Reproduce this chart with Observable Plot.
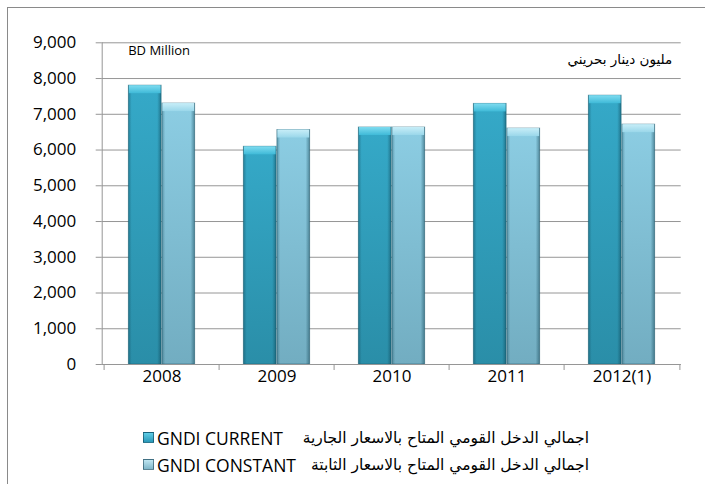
<!DOCTYPE html>
<html><head><meta charset="utf-8">
<script src="https://cdn.jsdelivr.net/npm/d3@7"></script>
<script src="https://cdn.jsdelivr.net/npm/@observablehq/plot@0.6"></script>
<style>
html,body{margin:0;padding:0;background:#fff;}
#frame{position:absolute;left:7px;top:7px;width:698px;height:477px;border-top:1px solid #8a8a8a;border-left:1px solid #8a8a8a;box-sizing:border-box;}
#chart{position:absolute;left:0;top:0;}
#legend{position:absolute;left:135px;top:416px;width:446px;font-family:"Open Sans",sans-serif;font-size:17.5px;color:#000;}
.row{display:flex;align-items:center;height:27px;}
.sw{width:11px;height:11px;margin-right:3px;box-sizing:border-box;border:1px solid rgba(0,40,60,0.5);}
.ar{margin-left:auto;direction:rtl;font-family:"DejaVu Sans",sans-serif;font-size:15.5px;}
</style></head>
<body>
<div id="frame"><div id="chart"></div>
<div id="legend"></div></div>
<script>
const years = ["2008", "2009", "2010", "2011", "2012(1)"];
const current = [7800, 6090, 6630, 7290, 7520];
const constant = [7300, 6560, 6630, 6600, 6710];
const yTicks = [0, 1000, 2000, 3000, 4000, 5000, 6000, 7000, 8000, 9000];
const seriesNames = ["GNDI CURRENT", "GNDI CONSTANT"];
const seriesArabic = ["اجمالي الدخل القومي المتاح بالاسعار الجارية", "اجمالي الدخل القومي المتاح بالاسعار الثابتة"];
const unitEn = "BD Million";
const unitAr = "مليون دينار بحريني";

const rows = years.map((y, i) => ({year: y, current: current[i], constant: constant[i]}));

const W = 697, ML = 93.7, MR = 24.3;
const bw = (W - ML - MR) / years.length;
const barW = 33.5;
const outer = (bw - 2 * barW) / 2;
const grid = "#969696";
const font = "Open Sans";

const chart = Plot.plot({
  width: W, height: 386,
  marginLeft: ML, marginRight: MR, marginTop: 34.3, marginBottom: 30,
  style: {fontFamily: font, background: "transparent"},
  x: {domain: years, padding: 0, axis: null},
  y: {domain: [0, 9000], axis: null},
  marks: [
    Plot.gridY(yTicks, {stroke: grid, strokeOpacity: 1}),
    Plot.frame({anchor: "left", stroke: grid}),
    Plot.axisY({ticks: yTicks, tickSize: 6, tickPadding: 20, tickFormat: d3.format(","), fontSize: 17, stroke: grid, fill: "#000", label: null}),
    // bars: current
    Plot.barY(rows, {x: "year", y: "current", fill: "url(#gCur)", stroke: "#1c6478", strokeOpacity: 0.55, insetLeft: outer, insetRight: outer + barW}),
    Plot.barY(rows, {x: "year", y: "current", fill: "url(#gEdge)", insetLeft: outer, insetRight: outer + barW}),
    Plot.barY(rows, {x: "year", y1: "current", y2: "current", fill: "url(#gCurTop)", insetBottom: -8, insetLeft: outer + 0.5, insetRight: outer + barW + 0.5}),
    // bars: constant
    Plot.barY(rows, {x: "year", y: "constant", fill: "url(#gCon)", stroke: "#2a6478", strokeOpacity: 0.55, insetLeft: outer + barW, insetRight: outer}),
    Plot.barY(rows, {x: "year", y: "constant", fill: "url(#gEdge)", insetLeft: outer + barW, insetRight: outer}),
    Plot.barY(rows, {x: "year", y1: "constant", y2: "constant", fill: "url(#gConTop)", insetBottom: -8, insetLeft: outer + barW + 0.5, insetRight: outer + 0.5}),
    Plot.ruleY([0], {stroke: grid}),
    Plot.axisX({ticks: years, tickSize: 6, tickFormat: () => "", dx: -bw / 2, stroke: grid, label: null}),
    Plot.axisX({ticks: [years[years.length - 1]], tickSize: 6, tickFormat: () => "", dx: bw / 2, stroke: grid, label: null}),
    Plot.axisX({ticks: years, tickSize: 0, tickPadding: 5, fontSize: 17, fill: "#000", label: null}),
    Plot.text([unitEn], {frameAnchor: "top-left", dx: 26, dy: 3, fontSize: 13, fill: "#000", textAnchor: "start"}),
    Plot.text([unitAr], {frameAnchor: "top-right", dx: -9, dy: 12, fontSize: 13.5, fill: "#000", fontFamily: "DejaVu Sans", textAnchor: "end"})
  ]
});

d3.select(chart).insert("defs", ":first-child").html(`
  <linearGradient id="gCur" x1="0" y1="0" x2="0" y2="1">
    <stop offset="0" stop-color="#35a9c8"/><stop offset="1" stop-color="#2a8ea8"/>
  </linearGradient>
  <linearGradient id="gCon" x1="0" y1="0" x2="0" y2="1">
    <stop offset="0" stop-color="#8ccde3"/><stop offset="1" stop-color="#72adc1"/>
  </linearGradient>
  <linearGradient id="gEdge" x1="0" y1="0" x2="1" y2="0">
    <stop offset="0" stop-color="#0a3a4a" stop-opacity="0.35"/>
    <stop offset="0.1" stop-color="#0a3a4a" stop-opacity="0"/>
    <stop offset="0.88" stop-color="#0a3a4a" stop-opacity="0"/>
    <stop offset="1" stop-color="#0a3a4a" stop-opacity="0.45"/>
  </linearGradient>
  <linearGradient id="gCurTop" x1="0" y1="0" x2="0" y2="1">
    <stop offset="0" stop-color="#7fdcf0"/><stop offset="1" stop-color="#3fbad8"/>
  </linearGradient>
  <linearGradient id="gConTop" x1="0" y1="0" x2="0" y2="1">
    <stop offset="0" stop-color="#c8eef8"/><stop offset="1" stop-color="#9ad7ea"/>
  </linearGradient>`);

document.getElementById("chart").appendChild(chart);

const swatchBg = ["linear-gradient(#5fcde6,#2a98b8)", "linear-gradient(#bfe6f2,#7fb6c9)"];
const legend = document.getElementById("legend");
seriesNames.forEach((n, i) => {
  const r = document.createElement("div");
  r.className = "row";
  r.innerHTML = `<span class="sw" style="background:${swatchBg[i]}"></span><span>${n}</span><span class="ar">${seriesArabic[i]}</span>`;
  legend.appendChild(r);
});
</script>
</body></html>
